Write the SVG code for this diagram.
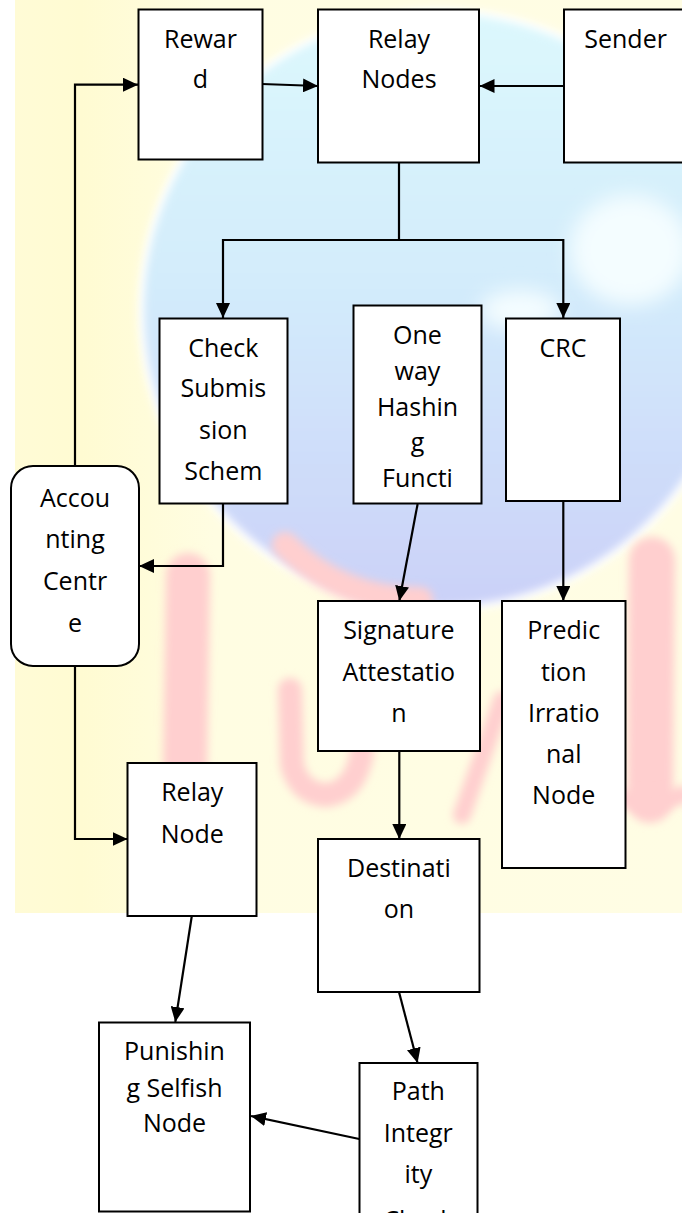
<svg xmlns="http://www.w3.org/2000/svg" width="682" height="1213" viewBox="0 0 682 1213">
  <style>
    .box { fill: #ffffff; stroke: #000000; stroke-width: 2; }
    .lbl { font-family: "Open Sans", "Liberation Sans", sans-serif; font-size: 25px; fill: #000000; text-anchor: middle; }
    .wire { fill: none; stroke: #000000; stroke-width: 2.2; }
    .ink { fill: none; stroke: #ffcfcf; stroke-linecap: round; stroke-linejoin: round; }
  </style>
  <defs>
    <marker id="arrow" viewBox="0 0 15 14" refX="15" refY="7" markerWidth="15" markerHeight="14" markerUnits="userSpaceOnUse" orient="auto">
      <path d="M0,0 L15,7 L0,14 z" fill="#000000"/>
    </marker>
    <linearGradient id="globeFill" x1="0" y1="0" x2="0" y2="1">
      <stop offset="0" stop-color="#dcf8fd"/>
      <stop offset="0.45" stop-color="#d3ecfb"/>
      <stop offset="1" stop-color="#cbd1f8"/>
    </linearGradient>
    <linearGradient id="paper" x1="0" y1="0" x2="1" y2="0">
      <stop offset="0" stop-color="#fffbd6"/>
      <stop offset="0.1" stop-color="#fffbd2"/>
      <stop offset="0.3" stop-color="#fffde2"/>
      <stop offset="1" stop-color="#fffde4"/>
    </linearGradient>
    <filter id="soft" filterUnits="userSpaceOnUse" x="0" y="0" width="682" height="913">
      <feGaussianBlur stdDeviation="4"/>
    </filter>
    <filter id="softer" filterUnits="userSpaceOnUse" x="0" y="0" width="682" height="913">
      <feGaussianBlur stdDeviation="10"/>
    </filter>
    <clipPath id="paperClip">
      <rect x="15" y="0" width="667" height="913"/>
    </clipPath>
  </defs>

  <!-- faded backdrop -->
  <rect x="0" y="0" width="682" height="1213" fill="#ffffff"/>
  <g id="backdrop" clip-path="url(#paperClip)">
    <rect x="15" y="0" width="667" height="913" fill="url(#paper)"/>
    <circle cx="440" cy="310" r="302" fill="#ffffff" filter="url(#soft)"/>
    <circle cx="440" cy="310" r="296" fill="url(#globeFill)" filter="url(#soft)"/>
    <ellipse cx="630" cy="250" rx="60" ry="55" fill="#f4fdff" filter="url(#softer)"/>
    <ellipse cx="520" cy="310" rx="40" ry="20" fill="#f4fdff" filter="url(#softer)"/>
    <path class="ink" d="M285 545 Q340 600 420 600" stroke-width="26" filter="url(#soft)"/>
    <path class="ink" d="M188 575 L185 775" stroke-width="44" filter="url(#soft)"/>
    <path class="ink" d="M290 690 L292 765 Q300 795 328 795 Q356 790 362 752" stroke-width="24" filter="url(#soft)"/>
    <path class="ink" d="M502 700 L462 815" stroke-width="18" filter="url(#soft)"/>
    <path class="ink" d="M652 560 L650 800" stroke-width="46" filter="url(#soft)"/>
    <path class="ink" d="M600 790 Q640 810 682 795" stroke-width="18" filter="url(#soft)"/>
  </g>

  <!-- connectors -->
  <g id="connectors">
    <path class="wire" d="M75 466 V84.7 H138" marker-end="url(#arrow)"/>
    <path class="wire" d="M262 84 L318 86" marker-end="url(#arrow)"/>
    <path class="wire" d="M564 86 H479.5" marker-end="url(#arrow)"/>
    <path class="wire" d="M399 163 V240 H223 V318" marker-end="url(#arrow)"/>
    <path class="wire" d="M399 240 H563.3 V318" marker-end="url(#arrow)"/>
    <path class="wire" d="M223 504 V566 H139" marker-end="url(#arrow)"/>
    <path class="wire" d="M417.6 504 L399.3 601" marker-end="url(#arrow)"/>
    <path class="wire" d="M563.3 501 V601" marker-end="url(#arrow)"/>
    <path class="wire" d="M75 666 V839 H127.5" marker-end="url(#arrow)"/>
    <path class="wire" d="M399.3 751 V839" marker-end="url(#arrow)"/>
    <path class="wire" d="M191.8 916 L175.3 1022" marker-end="url(#arrow)"/>
    <path class="wire" d="M399 992 L417.6 1063" marker-end="url(#arrow)"/>
    <path class="wire" d="M359.3 1139 L251 1116" marker-end="url(#arrow)"/>
  </g>

  <!-- nodes -->
  <g id="reward">
    <rect class="box" x="138.5" y="9.5" width="124" height="150"/>
    <text class="lbl" x="200.5" y="48.3">Rewar</text>
    <text class="lbl" x="200.5" y="88.3">d</text>
  </g>
  <g id="relay-nodes">
    <rect class="box" x="318" y="9.5" width="161" height="153"/>
    <text class="lbl" x="399" y="48.3">Relay</text>
    <text class="lbl" x="399" y="88.3">Nodes</text>
  </g>
  <g id="sender">
    <rect class="box" x="564" y="9.5" width="130" height="153"/>
    <text class="lbl" x="625.6" y="48.3">Sender</text>
  </g>
  <g id="check-submission">
    <rect class="box" x="159.5" y="318.5" width="128" height="185"/>
    <text class="lbl" x="223.3" y="356.7">Check</text>
    <text class="lbl" x="223.3" y="397.3">Submis</text>
    <text class="lbl" x="223.3" y="438.7">sion</text>
    <text class="lbl" x="223.3" y="480">Schem</text>
  </g>
  <g id="one-way-hashing">
    <rect class="box" x="353.5" y="305.5" width="128" height="198"/>
    <text class="lbl" x="417.5" y="344">One</text>
    <text class="lbl" x="417.5" y="380">way</text>
    <text class="lbl" x="417.5" y="415.7">Hashin</text>
    <text class="lbl" x="417.5" y="451.3">g</text>
    <text class="lbl" x="417.5" y="486.7">Functi</text>
  </g>
  <g id="crc">
    <rect class="box" x="506" y="318.5" width="114" height="182.5"/>
    <text class="lbl" x="563" y="357.3">CRC</text>
  </g>
  <g id="accounting-centre">
    <rect class="box" x="11" y="466" width="128" height="200" rx="22" ry="22"/>
    <text class="lbl" x="75" y="507.3">Accou</text>
    <text class="lbl" x="75" y="548.3">nting</text>
    <text class="lbl" x="75" y="590">Centr</text>
    <text class="lbl" x="75" y="631.7">e</text>
  </g>
  <g id="signature-attestation">
    <rect class="box" x="318" y="601" width="162" height="150"/>
    <text class="lbl" x="398.8" y="639">Signature</text>
    <text class="lbl" x="398.8" y="680.7">Attestatio</text>
    <text class="lbl" x="398.8" y="721.7">n</text>
  </g>
  <g id="prediction">
    <rect class="box" x="502" y="601" width="123.5" height="267"/>
    <text class="lbl" x="563.7" y="639">Predic</text>
    <text class="lbl" x="563.7" y="680.7">tion</text>
    <text class="lbl" x="563.7" y="721.7">Irratio</text>
    <text class="lbl" x="563.7" y="762.7">nal</text>
    <text class="lbl" x="563.7" y="804">Node</text>
  </g>
  <g id="relay-node">
    <rect class="box" x="127.5" y="763" width="129" height="153"/>
    <text class="lbl" x="192.3" y="801">Relay</text>
    <text class="lbl" x="192.3" y="842.7">Node</text>
  </g>
  <g id="destination">
    <rect class="box" x="318" y="839" width="161.5" height="153"/>
    <text class="lbl" x="398.9" y="877.3">Destinati</text>
    <text class="lbl" x="398.9" y="918.3">on</text>
  </g>
  <g id="punishing-selfish-node">
    <rect class="box" x="99" y="1022.5" width="151" height="189"/>
    <text class="lbl" x="174.5" y="1060">Punishin</text>
    <text class="lbl" x="174.5" y="1096.7">g Selfish</text>
    <text class="lbl" x="174.5" y="1132.3">Node</text>
  </g>
  <g id="path-integrity">
    <rect class="box" x="359.5" y="1063" width="118" height="175"/>
    <text class="lbl" x="418.3" y="1100">Path</text>
    <text class="lbl" x="418.3" y="1142.3">Integr</text>
    <text class="lbl" x="418.3" y="1183.3">ity</text>
    <text class="lbl" x="418.3" y="1229">Check</text>
  </g>
</svg>
